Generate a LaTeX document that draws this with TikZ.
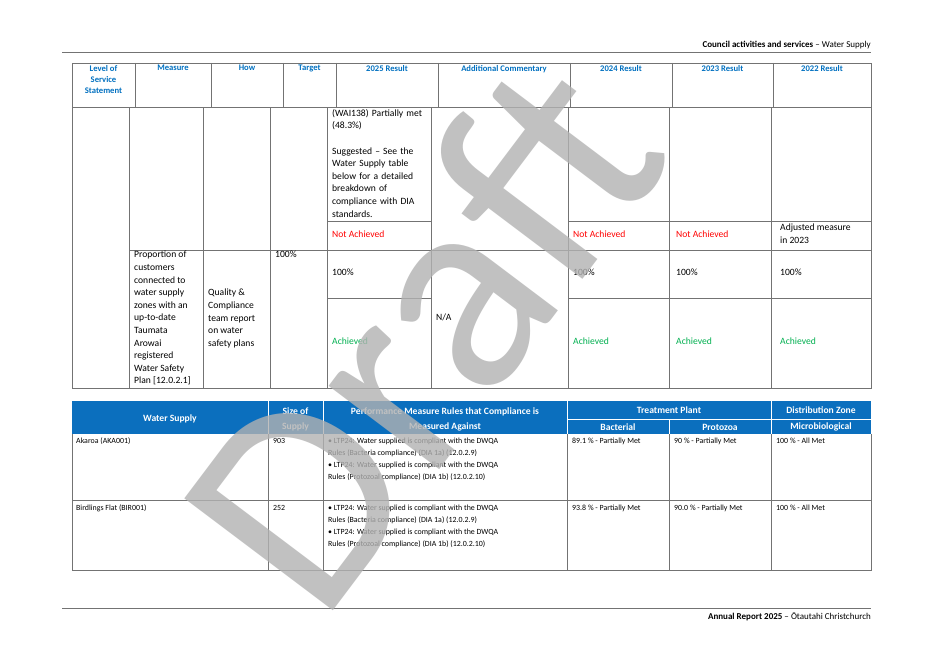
\documentclass[tikz,border=0pt]{standalone}
\usepackage{fontspec}
\setmainfont{Carlito}
\begin{document}
\begin{tikzpicture}[x=1pt,y=-1pt,
  grid/.style={draw=black!55,line width=0.6pt},
  cell/.style={anchor=north west,align=left,inner sep=0pt,font=\fontsize{9.6}{12.6}\selectfont},
  bcell/.style={anchor=north west,align=left,inner sep=0pt,font=\fontsize{7.9}{12}\selectfont},
  hd/.style={anchor=north,align=center,inner sep=0pt,font=\fontsize{8.6}{11}\selectfont\bfseries,text=hblue},
  bh/.style={anchor=center,align=center,inner sep=0pt,font=\fontsize{9.6}{15}\selectfont\bfseries,text=white},
  red/.style={text=nred},grn/.style={text=ngreen}]
\definecolor{hblue}{HTML}{0070C0}
\definecolor{bblue}{HTML}{0B6FBE}
\definecolor{nred}{HTML}{FF0000}
\definecolor{ngreen}{HTML}{00B050}
\useasboundingbox (0,0) rectangle (934,661);
\fill[white] (0,0) rectangle (934,661);
% page header/footer
\draw[black!55,line width=0.8pt] (62,52) -- (871,52);
\node[anchor=east,inner sep=0pt,font=\fontsize{9}{10}\selectfont] (ph) at (871,45) {\textbf{Council activities and services} -- Water Supply};
\draw[black!55,line width=0.8pt] (62,608) -- (871,608);
\node[anchor=east,inner sep=0pt,font=\fontsize{9}{10}\selectfont] (pf) at (871,617) {\textbf{Annual Report 2025} -- Ōtautahi Christchurch};
% top table header
\draw[grid] (72,63) rectangle (871,107);
\foreach \x in {135,211,283,336,438,570,672,773} \draw[grid] (\x,63) -- (\x,107);
\node[hd] (h1) at (103.5,65) {Level of\\Service\\Statement};
\node[hd] (h2) at (173,65) {Measure};
\node[hd] (h3) at (247,65) {How};
\node[hd] (h4) at (309.5,65) {Target};
\node[hd] (h5) at (387,65) {2025 Result};
\node[hd] (h6) at (504,65) {Additional Commentary};
\node[hd] (h7) at (621,65) {2024 Result};
\node[hd] (h8) at (722.5,65) {2023 Result};
\node[hd] (h9) at (822,65) {2022 Result};
% top table body
\draw[grid] (72,107) -- (871,107);
\draw[grid] (72,107) -- (72,388) -- (871,388) -- (871,107);
\foreach \x in {129,203,270,327,431,568,669,771} \draw[grid] (\x,107) -- (\x,388);
\draw[grid] (327,221) -- (431,221);
\draw[grid] (568,221) -- (871,221);
\draw[grid] (129,250) -- (871,250);
\draw[grid] (327,298) -- (431,298);
\draw[grid] (568,298) -- (871,298);
\node[cell,text width=98pt] (r1) at (332,109) {(WAI138) Partially met\\(48.3\%)\\[12.6pt]Suggested -- See the\\Water Supply table\\below for a detailed\\breakdown of\\compliance with DIA\\standards.};
\node[cell,red] (r2) at (332,231) {Not Achieved};
\node[cell,red] (r3) at (573,231) {Not Achieved};
\node[cell,red] (r4) at (676,231) {Not Achieved};
\node[cell] (r5) at (780,224) {Adjusted measure\\in 2023};
\node[cell] (m1) at (134,251) {Proportion of\\customers\\connected to\\water supply\\zones with an\\up-to-date\\Taumata\\Arowai\\registered\\Water Safety\\Plan [12.0.2.1]};
\node[cell] (w1) at (208,289) {Quality \&\\Compliance\\team report\\on water\\safety plans};
\node[cell] (t1) at (275,251) {100\%};
\node[cell] (c1) at (332,269) {100\%};
\node[cell] (c2) at (573,269) {100\%};
\node[cell] (c3) at (676,269) {100\%};
\node[cell] (c4) at (780,269) {100\%};
\node[cell] (na) at (436,314) {N/A};
\node[cell,grn] (a1) at (332,338) {Achieved};
\node[cell,grn] (a2) at (573,338) {Achieved};
\node[cell,grn] (a3) at (676,338) {Achieved};
\node[cell,grn] (a4) at (780,338) {Achieved};
% bottom table
\fill[bblue] (72,401) rectangle (871,434);
\draw[white,line width=0.6pt] (567,419) -- (871,419);
\foreach \x in {268,323,567,771} \draw[white,line width=0.6pt] (\x,401) -- (\x,434);
\draw[white,line width=0.6pt] (669,419) -- (669,434);
\node[bh] (b1) at (170,419) {Water Supply};
\node[bh] (b2) at (295.5,419) {Size of\\Supply};
\node[bh] (b3) at (445,419) {Performance Measure Rules that Compliance is\\Measured Against};
\node[bh] (b4) at (669,410.5) {Treatment Plant};
\node[bh] (b5) at (618,427) {Bacterial};
\node[bh] (b6) at (720,427) {Protozoa};
\node[bh] (b7) at (821,410.5) {Distribution Zone};
\node[bh] (b8) at (821,427) {Microbiological};
\draw[grid] (72,434) -- (72,570) -- (871,570) -- (871,434);
\draw[grid] (72,500) -- (871,500);
\foreach \x in {268,323,567,669,771} \draw[grid] (\x,434) -- (\x,570);
\node[bcell] (d1) at (76,438) {Akaroa (AKA001)};
\node[bcell] (d2) at (273,438) {903};
\node[bcell] (d3) at (328,438) {• LTP24: Water supplied is compliant with the DWQA\\Rules (Bacteria compliance) (DIA 1a) (12.0.2.9)\\• LTP24: Water supplied is compliant with the DWQA\\Rules (Protozoal compliance) (DIA 1b) (12.0.2.10)};
\node[bcell] (d4) at (572,438) {89.1 \% - Partially Met};
\node[bcell] (d5) at (674,438) {90 \% - Partially Met};
\node[bcell] (d6) at (776,438) {100 \% - All Met};
\node[bcell] (e1) at (76,505) {Birdlings Flat (BIR001)};
\node[bcell] (e2) at (273,505) {252};
\node[bcell] (e3) at (328,505) {• LTP24: Water supplied is compliant with the DWQA\\Rules (Bacteria compliance) (DIA 1a) (12.0.2.9)\\• LTP24: Water supplied is compliant with the DWQA\\Rules (Protozoal compliance) (DIA 1b) (12.0.2.10)};
\node[bcell] (e4) at (572,505) {93.8 \% - Partially Met};
\node[bcell] (e5) at (674,505) {90.0 \% - Partially Met};
\node[bcell] (e6) at (776,505) {100 \% - All Met};
% watermark
\node[text=black!30,opacity=0.8,rotate=53,inner sep=0pt,font=\fontsize{290}{290}\selectfont] (wm) at (420,332) {Draft};
\end{tikzpicture}
\end{document}
